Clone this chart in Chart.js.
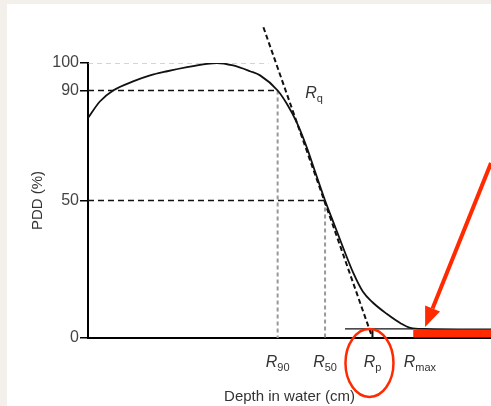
<!DOCTYPE html>
<html>
<head>
<meta charset="utf-8">
<script src="https://cdn.jsdelivr.net/npm/chart.js@4.4.1/dist/chart.umd.min.js"></script>
<style>
  html, body { margin: 0; padding: 0; background: #f3efeb; }
  #paper { position: absolute; left: 7px; top: 4px; width: 484px; height: 402px; background: #fff; }
  #pdd { position: absolute; left: 0; top: 0; }
</style>
</head>
<body>
<div id="paper"></div>
<canvas id="pdd" width="491" height="406"></canvas>
<script>
// Depth dose curve (depth in cm, dose in %)
const depth = [0, 0.25, 0.53, 0.95, 1.31, 1.67, 2.09, 2.51, 2.72, 3.06, 3.42, 3.63, 4.0,
               4.2, 4.4, 4.6, 4.8, 5.0, 5.2, 5.4, 5.6, 5.8, 6.0, 6.3, 6.6, 6.8, 7.1, 8.5];
const dose  = [80, 86, 90, 93.3, 95.5, 97, 98.5, 99.7, 100, 99.1, 97, 95.5, 90,
               85, 78.5, 70, 60, 50, 41, 32, 23.5, 16.8, 13, 8.8, 5.3, 3.7, 3.3, 3.1];

// Characteristic ranges
const rNames  = ['90', '50', 'p', 'max'];
const rDepths = [4.0, 5.0, 6.0, 7.0];
const yTicks  = [0, 50, 90, 100];

// Tangent through the falloff, and the bremsstrahlung background level
const tangentX = [3.7, 6.0];
const tangentY = [113, 0];
const tailX = [5.42, 6.86];
const tailLevel = 3.3;
const redBarX = [6.86, 8.5];
const redBarLevel = 1.6;

const FONT = '"Liberation Sans", Arial, sans-serif';
const RED = '#ff2a00';

function pts(xs, ys) {
    return xs.map((v, i) => ({ x: v, y: ys[i] }));
}

function line(data, color, width, dash) {
    return {
        data: data,
        borderColor: color,
        borderWidth: width,
        borderDash: dash || [],
        pointRadius: 0,
        fill: false,
        tension: 0
    };
}

// R label with an italic R and an upright subscript
function drawR(ctx, cx, base, sub, align) {
    ctx.font = 'italic 16px ' + FONT;
    const wR = ctx.measureText('R').width;
    ctx.font = '11px ' + FONT;
    const wS = ctx.measureText(sub).width;
    const x0 = align === 'left' ? cx : cx - (wR + wS) / 2;
    ctx.textAlign = 'left';
    ctx.textBaseline = 'alphabetic';
    ctx.fillStyle = '#333';
    ctx.font = 'italic 16px ' + FONT;
    ctx.fillText('R', x0, base);
    ctx.font = '11px ' + FONT;
    ctx.fillText(sub, x0 + wR, base + 4);
}

const annotate = {
    id: 'annotate',
    afterDraw(chart) {
        const { ctx, scales: { x, y } } = chart;
        ctx.save();
        rNames.forEach((n, i) => drawR(ctx, x.getPixelForValue(rDepths[i]), 367, n));
        drawR(ctx, x.getPixelForValue(4.58), y.getPixelForValue(87.3), 'q', 'left');

        // red ellipse round Rp
        ctx.strokeStyle = RED;
        ctx.lineWidth = 2.5;
        ctx.beginPath();
        ctx.ellipse(x.getPixelForValue(rDepths[2]) - 3, 363, 24, 34, 0, 0, Math.PI * 2);
        ctx.stroke();

        // red arrow pointing at the tail
        const x1 = x.getPixelForValue(8.5), y1 = y.getPixelForValue(63.6);
        const x2 = x.getPixelForValue(7.11), y2 = y.getPixelForValue(4.0);
        const len = Math.hypot(x2 - x1, y2 - y1);
        const ux = (x2 - x1) / len, uy = (y2 - y1) / len;
        const bx = x2 - ux * 20, by = y2 - uy * 20;
        ctx.lineWidth = 4;
        ctx.beginPath();
        ctx.moveTo(x1, y1);
        ctx.lineTo(bx, by);
        ctx.stroke();
        ctx.fillStyle = RED;
        ctx.beginPath();
        ctx.moveTo(x2, y2);
        ctx.lineTo(bx - uy * 8, by + ux * 8);
        ctx.lineTo(bx + uy * 8, by - ux * 8);
        ctx.closePath();
        ctx.fill();
        ctx.restore();
    }
};

const r90 = rDepths[0], r50 = rDepths[1], rp = rDepths[2];

new Chart(document.getElementById('pdd'), {
    type: 'line',
    data: {
        datasets: [
            line(pts(redBarX, [redBarLevel, redBarLevel]), RED, 8),
            Object.assign(line(pts(depth, dose), '#111', 1.8), { cubicInterpolationMode: 'monotone' }),
            Object.assign(line(pts(tangentX, tangentY), '#111', 2, [5, 3]), { clip: false }),
            line(pts([0, 3.81], [100, 100]), '#aaa', 1.2, [5, 4]),
            line(pts([0, r90], [90, 90]), '#111', 1.5, [6, 4]),
            line(pts([0, r50], [50, 50]), '#111', 1.5, [6, 4]),
            line(pts([r90, r90], [90, 0]), '#999', 2, [4, 3]),
            line(pts([r50, r50], [50, 0]), '#999', 2, [4, 3]),
            line(pts(tailX, [tailLevel, tailLevel]), '#111', 1.2),
            line(pts([rp, rp], [0, tailLevel]), '#111', 2)
        ]
    },
    options: {
        responsive: false,
        animation: false,
        layout: { padding: { top: 63, right: 0, left: 0, bottom: 0 } },
        plugins: {
            legend: { display: false },
            tooltip: { enabled: false }
        },
        scales: {
            x: {
                type: 'linear',
                min: 0,
                max: 8.5,
                ticks: { display: false },
                grid: { display: false, drawTicks: false },
                border: { color: '#000', width: 2 },
                afterFit: s => { s.height = 68; },
                title: {
                    display: true,
                    text: 'Depth in water (cm)',
                    color: '#333',
                    font: { family: FONT, size: 15 },
                    padding: { top: 0, bottom: 0 }
                }
            },
            y: {
                type: 'linear',
                min: 0,
                max: 100,
                afterBuildTicks: s => { s.ticks = yTicks.map(v => ({ value: v })); },
                afterFit: s => { s.width = 88; },
                ticks: { color: '#444', font: { family: FONT, size: 16 }, padding: 1 },
                grid: { drawOnChartArea: false, drawTicks: true, tickLength: 8, color: '#000', lineWidth: 1.5 },
                border: { color: '#000', width: 2 },
                title: {
                    display: true,
                    text: 'PDD (%)',
                    color: '#333',
                    font: { family: FONT, size: 15 },
                    padding: { top: 29, bottom: 0 }
                }
            }
        }
    },
    plugins: [annotate]
});
</script>
</body>
</html>
